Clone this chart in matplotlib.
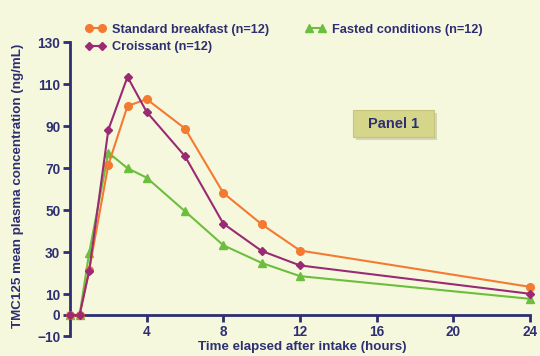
import matplotlib
matplotlib.use("Agg")
import matplotlib.pyplot as plt
from matplotlib.patches import FancyBboxPatch

# hours after intake
hours = [0, 0.5, 1, 2, 3, 4, 6, 8, 10, 12, 24]
standard = [0, 0, 21.5, 71.5, 99.5, 102.8, 88.8, 58.1, 43.2, 30.7, 13.4]
croissant = [0, 0, 20.9, 88.2, 113.4, 96.7, 75.6, 43.5, 30.5, 23.6, 10.1]
fasted = [0, 0, 29.6, 77.3, 69.9, 65.4, 49.4, 33.2, 24.8, 18.5, 7.7]
xticks = [4, 8, 12, 16, 20, 24]
yticks = [-10, 0, 10, 30, 50, 70, 90, 110, 130]

bg = "#f6f8de"
navy = "#2e2f72"
plt.rcParams['font.family'] = ['Liberation Sans', 'DejaVu Sans']
plt.rcParams['font.weight'] = 'bold'

fig = plt.figure(figsize=(5.4, 3.56), dpi=100, facecolor=bg)
ax = fig.add_axes([70/540, 1-336/356, 460/540, 294/356])
ax.set_facecolor(bg)

l1, = ax.plot(hours, standard, color="#f47a32", marker="o", ms=5.5, lw=1.5, clip_on=False, zorder=3)
l2, = ax.plot(hours, croissant, color="#9a2a72", marker="D", ms=4.2, lw=1.5, clip_on=False, zorder=4)
l3, = ax.plot(hours, fasted, color="#6cbf3e", marker="^", ms=5.5, lw=1.5, clip_on=False, zorder=2)

ax.set_xlim(0, 24)
ax.set_ylim(-10, 130)
ax.spines['top'].set_visible(False)
ax.spines['right'].set_visible(False)
ax.spines['bottom'].set_position(('data', 0))
for s in ['left', 'bottom']:
    ax.spines[s].set_color(navy)
    ax.spines[s].set_linewidth(2)
ax.set_xticks(xticks)
ax.set_yticks(yticks)
ax.set_yticklabels(["\u221210" if t < 0 else str(t) for t in yticks])
ax.tick_params(colors=navy, width=2, length=5, labelsize=9.8, direction='out', pad=2)
for lab in ax.get_xticklabels() + ax.get_yticklabels():
    lab.set_fontweight('bold')

fig.text(302/540, 1-347/356, "Time elapsed after intake (hours)", ha='center', va='center',
         color=navy, fontsize=9.6, fontweight='bold')
fig.text(18/540, 1-186/356, "TMC125 mean plasma concentration (ng/mL)", ha='center', va='center',
         rotation=90, color=navy, fontsize=9.6, fontweight='bold')

leg = fig.legend([l1, l2, l3], ["Standard breakfast (n=12)", "Croissant (n=12)", "Fasted conditions (n=12)"],
                 ncol=2, loc='upper left', bbox_to_anchor=(74/540, 1-12/356), frameon=False,
                 numpoints=2, handlelength=1.6, handletextpad=0.5, columnspacing=2.8,
                 labelspacing=0.45, prop={'size': 9.2, 'weight': 'bold'})
for t in leg.get_texts():
    t.set_color(navy)

# panel label box
bx, by, bw, bh = 353/540, 1-137/356, 81/540, 27/356
shadow = FancyBboxPatch((bx + 3/540, by - 3/356), bw, bh, boxstyle="square,pad=0", transform=fig.transFigure,
                        facecolor="#c8c8a8", edgecolor='none', alpha=0.7)
box = FancyBboxPatch((bx, by), bw, bh, boxstyle="square,pad=0", transform=fig.transFigure,
                     facecolor="#d6d68a", edgecolor="#c4c47a", lw=0.8)
fig.patches.extend([shadow, box])
fig.text(bx + bw/2, by + bh/2, "Panel 1", ha='center', va='center', color=navy, fontsize=10.5, fontweight='bold')

fig.savefig("out.png", dpi=100, facecolor=bg)
